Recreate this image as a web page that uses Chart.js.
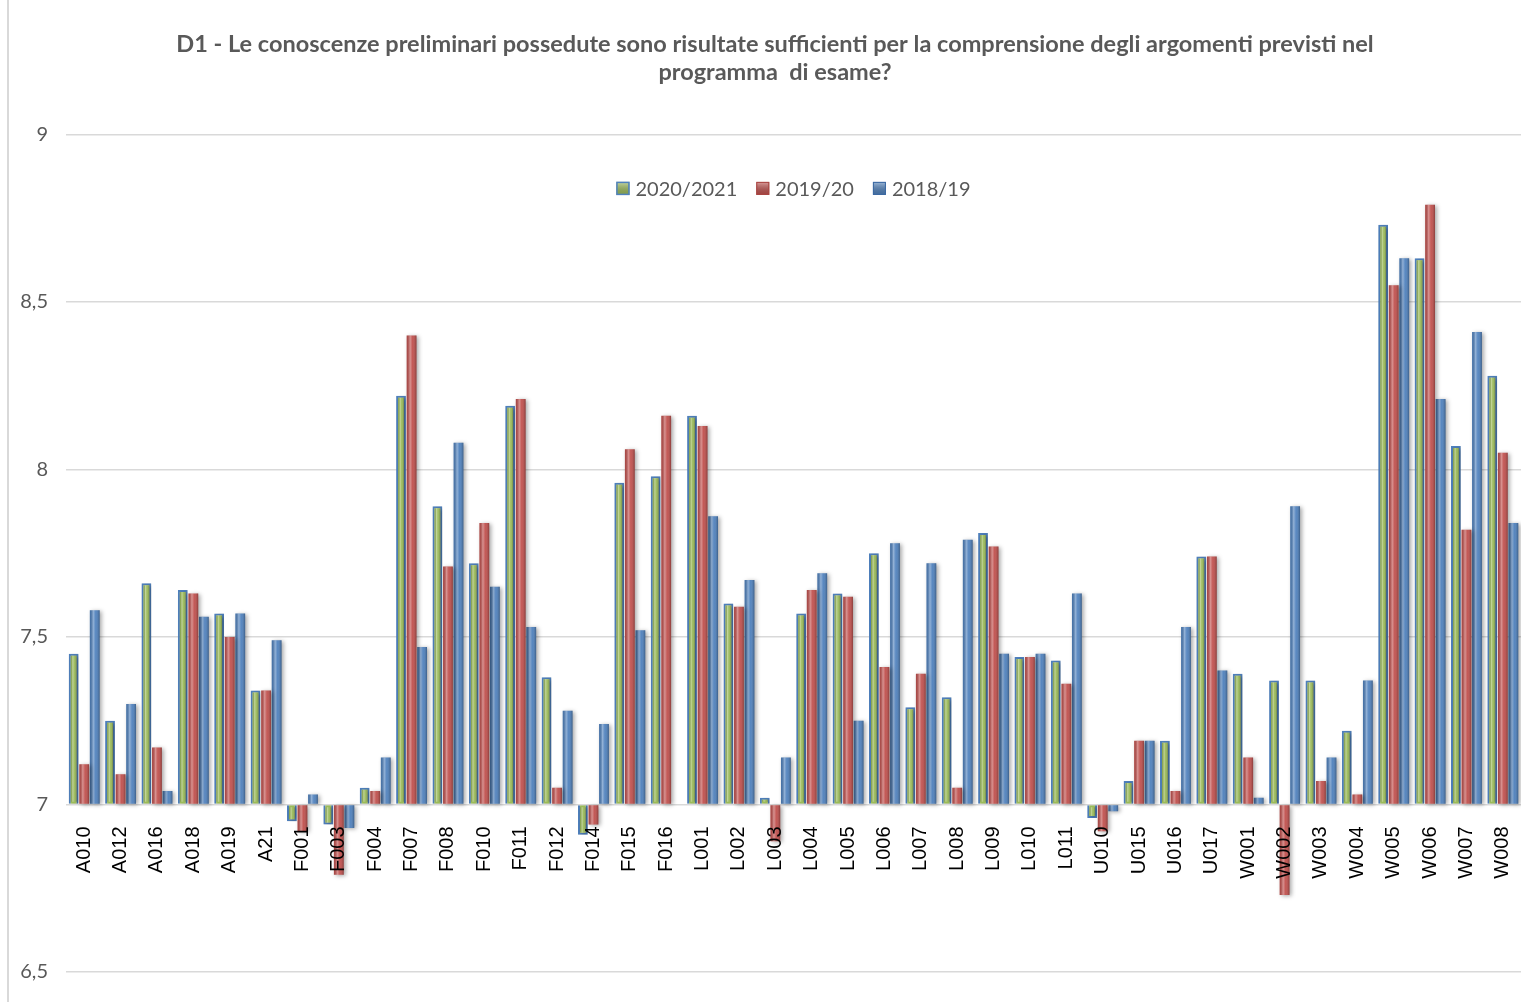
<!DOCTYPE html>
<html>
<head>
<meta charset="utf-8">
<script src="https://cdn.jsdelivr.net/npm/chart.js@4.4.1/dist/chart.umd.min.js"></script>
<style>
  html, body { margin: 0; padding: 0; background: #fff; }
  #wrap { position: relative; width: 1521px; height: 1002px; }
  #bordo { position: absolute; left: 7px; top: 0; width: 2px; height: 1002px; background: #d9d9d9; }
</style>
</head>
<body>
<div id="wrap">
  <div id="bordo"></div>
  <canvas id="grafico"></canvas>
</div>
<script>
// dati
var corsi = ['A010', 'A012', 'A016', 'A018', 'A019', 'A21', 'F001', 'F003', 'F004', 'F007',
             'F008', 'F010', 'F011', 'F012', 'F014', 'F015', 'F016', 'L001', 'L002', 'L003',
             'L004', 'L005', 'L006', 'L007', 'L008', 'L009', 'L010', 'L011', 'U010', 'U015',
             'U016', 'U017', 'W001', 'W002', 'W003', 'W004', 'W005', 'W006', 'W007', 'W008'];

var anno2021 = [7.45, 7.25, 7.66, 7.64, 7.57, 7.34, 6.95, 6.94, 7.05, 8.22,
                7.89, 7.72, 8.19, 7.38, 6.91, 7.96, 7.98, 8.16, 7.60, 7.02,
                7.57, 7.63, 7.75, 7.29, 7.32, 7.81, 7.44, 7.43, 6.96, 7.07,
                7.19, 7.74, 7.39, 7.37, 7.37, 7.22, 8.73, 8.63, 8.07, 8.28];

var anno1920 = [7.12, 7.09, 7.17, 7.63, 7.50, 7.34, 6.92, 6.79, 7.04, 8.40,
                7.71, 7.84, 8.21, 7.05, 6.94, 8.06, 8.16, 8.13, 7.59, 6.89,
                7.64, 7.62, 7.41, 7.39, 7.05, 7.77, 7.44, 7.36, 6.92, 7.19,
                7.04, 7.74, 7.14, 6.73, 7.07, 7.03, 8.55, 8.79, 7.82, 8.05];

var anno1819 = [7.58, 7.30, 7.04, 7.56, 7.57, 7.49, 7.03, 6.93, 7.14, 7.47,
                8.08, 7.65, 7.53, 7.28, 7.24, 7.52, null, 7.86, 7.67, 7.14,
                7.69, 7.25, 7.78, 7.72, 7.79, 7.45, 7.45, 7.63, 6.98, 7.19,
                7.53, 7.40, 7.02, 7.89, 7.14, 7.37, 8.63, 8.21, 8.41, 7.84];

var etichetteSerie = ['2020/2021', '2019/20', '2018/19'];
var tickAsseY = [6.5, 7, 7.5, 8, 8.5, 9];

var titolo = ['D1 - Le conoscenze preliminari possedute sono risultate sufficienti per la comprensione degli argomenti previsti nel',
              'programma  di esame?'];

// ombra e riflesso sulle barre, tipo effetto 3D di Excel
var ombreggiatura = {
    id: 'ombreggiatura',
    afterLayout: function(chart) {
        // il titolo in Excel e' un po' spostato a destra
        chart.titleBlock.left += 29;
    },
    beforeDatasetDraw: function(chart) {
        var ctx = chart.ctx;
        ctx.save();
        ctx.shadowColor = 'rgba(0,0,0,0.35)';
        ctx.shadowBlur = 4;
        ctx.shadowOffsetX = 2;
        ctx.shadowOffsetY = 1;
    },
    afterDatasetDraw: function(chart, args) {
        var ctx = chart.ctx;
        ctx.restore();
        var bordo = chart.data.datasets[args.index].borderWidth || 0;
        ctx.save();
        args.meta.data.forEach(function(barra) {
            if (barra.skip || isNaN(barra.y) || isNaN(barra.base)) return;
            var sx = barra.x - barra.width / 2 + bordo;
            var largh = barra.width - bordo * 2;
            var alto = Math.min(barra.y, barra.base) + bordo;
            var h = Math.abs(barra.base - barra.y) - bordo * 2;
            if (h <= 0 || largh <= 0) return;
            var g = ctx.createLinearGradient(sx, 0, sx + largh, 0);
            g.addColorStop(0, 'rgba(0,0,0,0.10)');
            g.addColorStop(0.35, 'rgba(255,255,255,0.38)');
            g.addColorStop(0.6, 'rgba(255,255,255,0.05)');
            g.addColorStop(1, 'rgba(0,0,0,0.28)');
            ctx.fillStyle = g;
            ctx.fillRect(sx, alto, largh, h);
        });
        ctx.restore();
    }
};

// legenda dentro l'area del grafico, sotto la griglia del 9
var legendaInterna = {
    id: 'legendaInterna',
    afterDraw: function(chart) {
        var ctx = chart.ctx;
        var area = chart.chartArea;
        var lato = 13, spazioBox = 6, spazioVoce = 19;
        ctx.save();
        ctx.font = '20px Lato';
        ctx.textBaseline = 'middle';
        ctx.textAlign = 'left';
        var voci = chart.data.datasets.map(function(ds) {
            return { testo: ds.label, larg: ctx.measureText(ds.label).width, ds: ds };
        });
        var totale = 0;
        voci.forEach(function(v, i) {
            totale += lato + spazioBox + v.larg + (i > 0 ? spazioVoce : 0);
        });
        var x = (area.left + area.right) / 2 - totale / 2;
        var y = area.top + 54;
        voci.forEach(function(v) {
            var g = ctx.createLinearGradient(0, y - lato / 2, 0, y + lato / 2);
            g.addColorStop(0, 'rgba(255,255,255,0.45)');
            g.addColorStop(1, 'rgba(0,0,0,0.15)');
            ctx.fillStyle = v.ds.backgroundColor;
            ctx.fillRect(x, y - lato / 2, lato, lato);
            ctx.fillStyle = g;
            ctx.fillRect(x, y - lato / 2, lato, lato);
            ctx.lineWidth = v.ds.borderWidth ? 1.5 : 1;
            ctx.strokeStyle = v.ds.borderColor;
            ctx.strokeRect(x + 0.5, y - lato / 2 + 0.5, lato - 1, lato - 1);
            ctx.fillStyle = '#595959';
            ctx.fillText(v.testo, x + lato + spazioBox, y + 1);
            x += lato + spazioBox + v.larg + spazioVoce;
        });
        ctx.restore();
    }
};

var ctx = document.getElementById('grafico');
var grafico = new Chart(ctx, {
    type: 'bar',
    data: {
        labels: corsi,
        datasets: [{
            label: etichetteSerie[0],
            data: anno2021,
            base: 7,
            backgroundColor: '#9bbb59',
            borderColor: '#4f81bd',
            borderWidth: 2
        }, {
            label: etichetteSerie[1],
            data: anno1920,
            base: 7,
            backgroundColor: '#c0504d',
            borderColor: '#a94441',
            borderWidth: 0
        }, {
            label: etichetteSerie[2],
            data: anno1819,
            base: 7,
            backgroundColor: '#4f81bd',
            borderColor: '#3a68a2',
            borderWidth: 0
        }]
    },
    options: {
        responsive: true,
        maintainAspectRatio: false,
        animation: false,
        layout: { padding: { left: 0, right: 0, top: 0, bottom: 17 } },
        datasets: {
            bar: { categoryPercentage: 0.87, barPercentage: 0.93 }
        },
        plugins: {
            title: {
                display: true,
                text: titolo,
                color: '#595959',
                font: { family: 'Lato', size: 23.5, weight: 'bold', lineHeight: 1.2 },
                padding: { top: 30, bottom: 48 }
            },
            legend: { display: false },
            tooltip: { enabled: false }
        },
        scales: {
            x: {
                position: { y: 7 },
                grid: { display: false },
                border: { display: false },
                ticks: {
                    z: 1,
                    autoSkip: false,
                    minRotation: 90,
                    maxRotation: 90,
                    padding: 14,
                    color: '#000000',
                    font: { family: 'Liberation Sans', size: 20 }
                },
                afterFit: function(scala) {
                    scala.height = 0;
                    scala.paddingLeft = 0;
                    scala.paddingRight = 0;
                }
            },
            y: {
                min: tickAsseY[0],
                max: tickAsseY[tickAsseY.length - 1],
                grid: { color: '#d9d9d9', lineWidth: 1.5, drawTicks: false },
                border: { display: false },
                afterBuildTicks: function(scala) {
                    scala.ticks = tickAsseY.map(function(v) { return { value: v }; });
                },
                ticks: {
                    padding: 18,
                    color: '#595959',
                    font: { family: 'Lato', size: 20 },
                    callback: function(valore) { return String(valore).replace('.', ','); }
                },
                afterFit: function(scala) { scala.width = 66; }
            }
        }
    },
    plugins: [ombreggiatura, legendaInterna]
});
</script>
</body>
</html>
